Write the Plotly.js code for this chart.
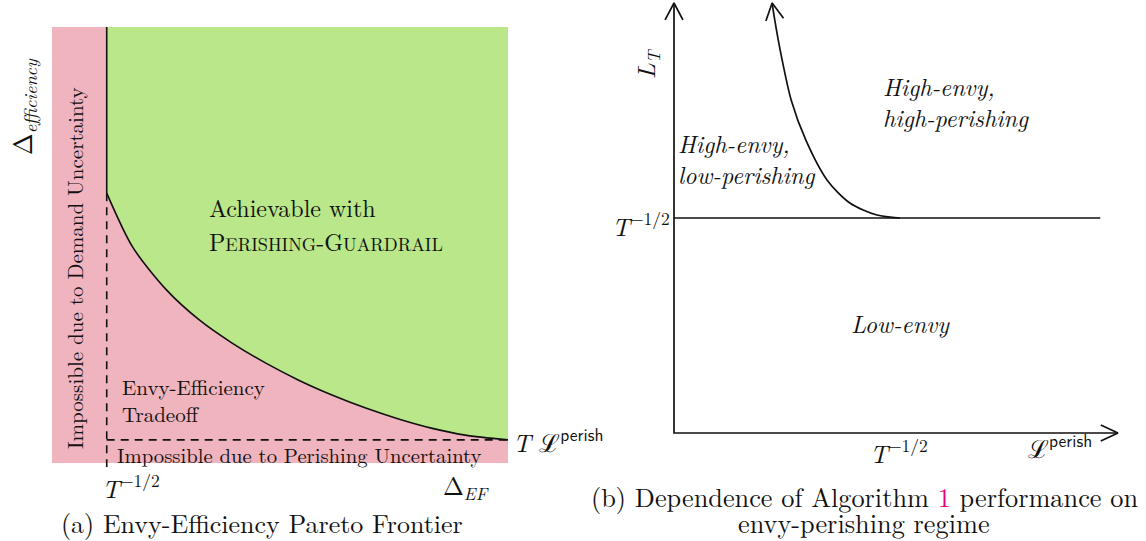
<!DOCTYPE html>
<html><head><meta charset="utf-8">
<script src="https://cdn.plot.ly/plotly-3.0.1.min.js"></script>
</head><body style="margin:0"><div id="chart" style="width:1146px;height:541px"></div>
<script>
// ---------- data (conceptual units) ----------
// Panel (a): Envy-Efficiency Pareto frontier
const panelAMax = 10;          // extent of the diagram on both axes
const demandBound = 1.2;       // T^{-1/2} on the Delta_EF axis
const perishBound = 0.53;      // T L^perish on the Delta_efficiency axis
const frontierX = [1.20, 1.77, 2.51, 3.23, 3.95, 4.69, 5.41, 6.14, 6.88, 7.60, 8.32, 9.06, 10.0];
const frontierY = [6.19, 4.95, 3.97, 3.28, 2.75, 2.29, 1.90, 1.56, 1.26, 1.01, 0.80, 0.64, 0.53];

// Panel (b): envy-perishing regimes
const panelBMax = 10;          // arrow tips of both axes
const envyLevel = 5.0;         // T^{-1/2} on the L_T axis
const envyLineEnd = 9.6;       // right end of the T^{-1/2} level line
const perishLevel = 5.1;       // T^{-1/2} on the L^perish axis
const regimeX = [2.21, 2.27, 2.39, 2.64, 2.97, 3.45, 3.96, 4.57, 5.09];
const regimeY = [10.0, 9.60, 8.91, 7.74, 6.81, 5.88, 5.35, 5.07, 5.00];

// ---------- geometry helpers ----------
const W = 1146, H = 541;
const A = {x0: 52, x1: 508, y0: 463, y1: 27};
const aKx = (A.x1 - A.x0) / panelAMax, aKy = (A.y0 - A.y1) / panelAMax;
const aXr = [-0.05, panelAMax + 0.05], aYr = [-0.1, panelAMax + 0.05];
const B = {x0: 674, x1: 1118, y0: 433, y1: 3};
const bKx = (B.x1 - B.x0) / panelBMax, bKy = (B.y0 - B.y1) / panelBMax;
const bXr = [-0.3, panelBMax + 0.3], bYr = [-0.3, panelBMax + 0.05];

function dom(p0, k, r, vert) {
  if (!vert) return [(p0 + r[0] * k) / W, (p0 + r[1] * k) / W];
  return [1 - (p0 - r[0] * k) / H, 1 - (p0 - r[1] * k) / H];
}
function P(x, y) { return {x: x / W, y: 1 - y / H}; }

function chevron(tx, ty, dir, kx, ky, len, ang) {
  const n = Math.hypot(dir[0], dir[1]);
  const bx = -dir[0] / n, by = -dir[1] / n;
  const a = ang * Math.PI / 180;
  const r = (s) => [bx * Math.cos(s) - by * Math.sin(s), bx * Math.sin(s) + by * Math.cos(s)];
  const p = r(a), q = r(-a);
  return {
    x: [tx + p[0] * len / kx, tx, tx + q[0] * len / kx],
    y: [ty - p[1] * len / ky, ty, ty - q[1] * len / ky]
  };
}

const pink = 'rgb(239,180,190)';
const green = 'rgb(186,231,137)';
const ink = '#111';
const FONT = 'Latin Modern Roman, Liberation Serif, serif';

const traces = [];
traces.push({x: [0, panelAMax, panelAMax, 0, 0], y: [0, 0, panelAMax, panelAMax, 0],
  xaxis: 'x', yaxis: 'y', mode: 'lines', fill: 'toself', fillcolor: pink, line: {width: 0}, hoverinfo: 'skip'});
traces.push({x: [demandBound].concat(frontierX, [panelAMax, demandBound]),
  y: [panelAMax].concat(frontierY, [panelAMax, panelAMax]),
  xaxis: 'x', yaxis: 'y', mode: 'lines', fill: 'toself', fillcolor: green, line: {width: 0}, hoverinfo: 'skip'});
traces.push({x: [demandBound, demandBound], y: [aYr[0], frontierY[0]], xaxis: 'x', yaxis: 'y', mode: 'lines',
  line: {color: ink, width: 1.6, dash: '8px,6px'}, hoverinfo: 'skip'});
traces.push({x: [demandBound, panelAMax], y: [perishBound, perishBound], xaxis: 'x', yaxis: 'y', mode: 'lines',
  line: {color: ink, width: 1.6, dash: '8px,6px'}, hoverinfo: 'skip'});
traces.push({x: [demandBound, demandBound], y: [panelAMax, frontierY[0]], xaxis: 'x', yaxis: 'y', mode: 'lines',
  line: {color: ink, width: 1.6}, hoverinfo: 'skip'});
traces.push({x: frontierX, y: frontierY, xaxis: 'x', yaxis: 'y', mode: 'lines',
  line: {color: ink, width: 1.6, shape: 'spline', smoothing: 0.8}, hoverinfo: 'skip'});

traces.push({x: [0, 0, panelBMax], y: [panelBMax, 0, 0], xaxis: 'x2', yaxis: 'y2', mode: 'lines',
  line: {color: ink, width: 1.7}, hoverinfo: 'skip'});
traces.push({x: [0, envyLineEnd], y: [envyLevel, envyLevel], xaxis: 'x2', yaxis: 'y2', mode: 'lines',
  line: {color: ink, width: 1.7}, hoverinfo: 'skip'});
traces.push({x: regimeX, y: regimeY, xaxis: 'x2', yaxis: 'y2', mode: 'lines',
  line: {color: ink, width: 1.7, shape: 'spline', smoothing: 0.8}, hoverinfo: 'skip'});
const heads = [
  chevron(0, panelBMax, [0, -1], bKx, bKy, 19, 28),
  chevron(panelBMax, 0, [1, 0], bKx, bKy, 19, 25),
  chevron(regimeX[0], regimeY[0],
    [(regimeX[0] - regimeX[1]) * bKx, -(regimeY[0] - regimeY[1]) * bKy], bKx, bKy, 19, 28)
];
heads.forEach(h => traces.push({x: h.x, y: h.y, xaxis: 'x2', yaxis: 'y2', mode: 'lines',
  line: {color: ink, width: 1.7}, hoverinfo: 'skip'}));

function ann(px, py, text, size, opts) {
  const p = P(px, py);
  return Object.assign({xref: 'paper', yref: 'paper', x: p.x, y: p.y, text: text, showarrow: false,
    xanchor: 'center', yanchor: 'middle', borderpad: 0, font: {family: FONT, size: size, color: ink}}, opts || {});
}
const sc = (s) => '<span style="font-size:0.76em">' + s + '</span>';
const sf = (s) => '<span style="font-family:Latin Modern Sans, DejaVu Sans, sans-serif">' + s + '</span>';

const annotations = [
  ann(22, 107, 'Δ<sub><i>efficiency</i></sub>', 26, {textangle: -90}),
  ann(74, 268, 'Impossible due to Demand Uncertainty', 21, {textangle: -90}),
  ann(208, 207, 'Achievable with', 24, {xanchor: 'left'}),
  ann(208, 241, 'P' + sc('ERISHING') + '-G' + sc('UARDRAIL'), 24, {xanchor: 'left'}),
  ann(121, 399, 'Envy-Efficiency<br>Tradeoff', 21, {xanchor: 'left', align: 'left'}),
  ann(116, 454, 'Impossible due to Perishing Uncertainty', 20.7, {xanchor: 'left'}),
  ann(131, 486, '<i>T</i><sup>−1/2</sup>', 25),
  ann(466, 486, 'Δ<sub><i>EF</i></sub>', 25),
  ann(512, 440, '<i>T</i> ℒ<sup>' + sf('perish') + '</sup>', 25, {xanchor: 'left'}),
  ann(262, 522, '(a) Envy-Efficiency Pareto Frontier', 26),
  ann(646, 63, '<i>L<sub>T</sub></i>', 25, {textangle: -90}),
  ann(671, 224, '<i>T</i><sup>−1/2</sup>', 25, {xanchor: 'right'}),
  ann(677, 159, '<i>High-envy,<br>low-perishing</i>', 24, {xanchor: 'left', align: 'left'}),
  ann(882, 102, '<i>High-envy,<br>high-perishing</i>', 24, {xanchor: 'left', align: 'left'}),
  ann(900, 323, '<i>Low-envy</i>', 24),
  ann(899, 451, '<i>T</i><sup>−1/2</sup>', 25),
  ann(1060, 446, 'ℒ<sup>' + sf('perish') + '</sup>', 25),
  ann(864, 496, '(b) Dependence of Algorithm <span style="color:#e6007e">1</span> performance on', 26.3),
  ann(864, 522, 'envy-perishing regime', 26.3)
];

const hide = {visible: false, fixedrange: true};
const layout = {
  width: W, height: H, margin: {l: 0, r: 0, t: 0, b: 0},
  paper_bgcolor: '#fff', plot_bgcolor: 'rgba(0,0,0,0)', showlegend: false,
  font: {family: FONT},
  xaxis: Object.assign({domain: dom(A.x0, aKx, aXr, false), range: aXr, anchor: 'y'}, hide),
  yaxis: Object.assign({domain: dom(A.y0, aKy, aYr, true), range: aYr, anchor: 'x'}, hide),
  xaxis2: Object.assign({domain: dom(B.x0, bKx, bXr, false), range: bXr, anchor: 'y2'}, hide),
  yaxis2: Object.assign({domain: dom(B.y0, bKy, bYr, true), range: bYr, anchor: 'x2'}, hide),
  annotations: annotations
};
Plotly.newPlot('chart', traces, layout, {displayModeBar: false});
</script></body></html>
